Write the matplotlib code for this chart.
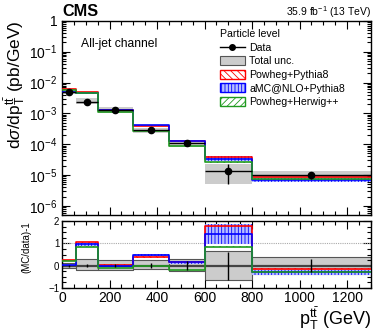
import numpy as np
import matplotlib
matplotlib.use("Agg")
import matplotlib.pyplot as plt
from matplotlib.patches import Patch
from matplotlib.lines import Line2D
from matplotlib.ticker import FixedLocator, MultipleLocator, LogLocator, FuncFormatter, NullFormatter

plt.rcParams["font.family"] = ["Liberation Sans", "DejaVu Sans"]
plt.rcParams["mathtext.fontset"] = "custom"
plt.rcParams["mathtext.rm"] = "Liberation Sans"
plt.rcParams["mathtext.it"] = "Liberation Sans:italic"
plt.rcParams["mathtext.bf"] = "Liberation Sans:bold"
plt.rcParams["hatch.linewidth"] = 0.6

# bin edges in pT(tt) [GeV]
edges = np.array([0, 60, 150, 300, 450, 600, 800, 1300])

# measured cross section (pb/GeV) and relative uncertainties
data = np.array([4.8e-3, 2.4e-3, 1.25e-3, 2.8e-4, 1.07e-4, 1.4e-5, 1.0e-5])
stat_rel = np.array([0.04, 0.06, 0.06, 0.12, 0.20, 0.63, 0.28])
tot_up_rel = np.array([0.13, 0.28, 0.27, 0.24, 0.31, 0.65, 0.39])
tot_dn_rel = np.array([0.10, 0.18, 0.18, 0.16, 0.25, 0.63, 0.37])

# predictions (pb/GeV) and their relative uncertainties
powheg_py8 = np.array([6.0e-3, 4.9e-3, 1.31e-3, 3.9e-4, 1.27e-4, 3.9e-5, 8.7e-6])
amc_py8 = np.array([4.95e-3, 4.7e-3, 1.25e-3, 4.1e-4, 1.23e-4, 3.4e-5, 7.0e-6])
powheg_hw = np.array([5.8e-3, 4.45e-3, 1.12e-3, 2.75e-4, 8.6e-5, 2.6e-5, 7.2e-6])
powheg_py8_unc = np.array([0.01, 0.02, 0.01, 0.02, 0.02, 0.03, 0.03])
amc_py8_unc = np.array([0.02, 0.04, 0.03, 0.03, 0.05, 0.19, 0.15])
powheg_hw_unc = np.array([0.01, 0.01, 0.01, 0.01, 0.01, 0.02, 0.02])

RED, BLUE, GREEN = "#ff0000", "#0000ff", "#1f9a1f"
models = [
    ("Powheg+Pythia8", powheg_py8, powheg_py8_unc, RED, "none", "\\\\\\\\\\"),
    ("aMC@NLO+Pythia8", amc_py8, amc_py8_unc, BLUE, "#b8c0ff", "|||||"),
    ("Powheg+Herwig++", powheg_hw, powheg_hw_unc, GREEN, "none", "/////"),
]

centers = 0.5 * (edges[1:] + edges[:-1])
halfw = 0.5 * np.diff(edges)


def stepped(v):
    return np.append(v, v[-1])


fig = plt.figure(figsize=(3.9, 3.31), dpi=100)
ax = fig.add_axes([0.159, 0.350, 0.792, 0.587])
rax = fig.add_axes([0.159, 0.130, 0.792, 0.202])

# ---- top panel
for lo, hi, d, up, dn in zip(edges[:-1], edges[1:], data, tot_up_rel, tot_dn_rel):
    ax.fill_between([lo, hi], d * (1 - dn), d * (1 + up), color="#cccccc", lw=0, zorder=1)
for name, mc, unc, col, fc, hatch in models:
    ax.fill_between(edges, stepped(mc * (1 - unc)), stepped(mc * (1 + unc)), step="post",
                    facecolor=fc, edgecolor=col, hatch=hatch, lw=0, zorder=2)
    ax.step(edges, stepped(mc), where="post", color=col, lw=1.2, zorder=3)
ax.errorbar(centers, data, xerr=halfw, yerr=data * stat_rel, fmt="o", color="k",
            ms=4.5, lw=1, capsize=0, zorder=5)

ax.set_yscale("log")
ax.set_ylim(5e-7, 1)
ax.set_xlim(0, 1300)
ax.yaxis.set_major_locator(LogLocator(base=10, numticks=10))
ax.yaxis.set_minor_locator(LogLocator(base=10, subs=np.arange(2, 10), numticks=10))
ax.yaxis.set_minor_formatter(NullFormatter())
ax.yaxis.set_major_formatter(FuncFormatter(
    lambda v, p: "1" if abs(v - 1) < 1e-9 else r"$10^{%d}$" % round(np.log10(v))))
ax.xaxis.set_major_locator(MultipleLocator(200))
ax.xaxis.set_minor_locator(MultipleLocator(50))
ax.tick_params(axis="x", labelbottom=False)
ax.set_ylabel(r"d$\sigma$/dp$_{\mathrm{T}}^{\mathrm{t\bar{t}}}$ (pb/GeV)", fontsize=12.5,
              loc="top", labelpad=1)

ax.text(0.06, 0.88, "All-jet channel", transform=ax.transAxes, fontsize=8.7, va="center")

handles = [
    Line2D([0], [0], color="k", marker="o", ms=4, lw=1),
    Patch(facecolor="#cccccc", edgecolor="#555555", lw=0.8),
] + [Patch(facecolor=fc, edgecolor=col, hatch=hatch, lw=1) for _, _, _, col, fc, hatch in models]
labels = ["Data", "Total unc."] + [m[0] for m in models]
leg = ax.legend(handles, labels, title="Particle level", loc="upper left",
                bbox_to_anchor=(215 / 390, 1 - 24 / 331), bbox_transform=fig.transFigure,
                frameon=False, fontsize=7.6, title_fontsize=7.6, handlelength=2.3,
                handleheight=0.95, handletextpad=0.45, labelspacing=0.32, borderpad=0,
                alignment="left")

fig.text(62 / 390, 1 - 16 / 331, "CMS", fontsize=11.7, fontweight="bold", va="baseline")
fig.text(371 / 390, 1 - 16 / 331, r"35.9 fb$^{-1}$ (13 TeV)", fontsize=7.5,
         ha="right", va="baseline")

# ---- ratio panel
for lo, hi, up, dn in zip(edges[:-1], edges[1:], tot_up_rel, tot_dn_rel):
    rax.fill_between([lo, hi], -dn, up, facecolor="#cccccc", edgecolor="#555555", lw=0.8, zorder=1)
rax.axhline(0, color="#444444", lw=1.6, zorder=2)
rax.axhline(1, color="#aaaaaa", lw=0.8, ls=(0, (1, 1)), zorder=2)
for name, mc, unc, col, fc, hatch in models:
    r = mc / data - 1
    du = mc * unc / data
    rax.fill_between(edges, stepped(r - du), stepped(r + du), step="post",
                     facecolor=fc, edgecolor=col, hatch=hatch, lw=0, zorder=3)
    rax.step(edges, stepped(r), where="post", color=col, lw=1.2, zorder=4)
rax.errorbar(centers, np.zeros_like(centers), yerr=stat_rel, fmt="none", ecolor="k",
             lw=1, capsize=0, zorder=5)

rax.set_xlim(0, 1300)
rax.set_ylim(-1, 2)
rax.yaxis.set_major_locator(FixedLocator([-1, 0, 1, 2]))
rax.yaxis.set_minor_locator(MultipleLocator(0.25))
rax.xaxis.set_major_locator(MultipleLocator(200))
rax.xaxis.set_minor_locator(MultipleLocator(50))
rax.tick_params(axis="x", labelsize=10, pad=2)
rax.set_ylabel("(MC/data)-1", fontsize=7, loc="top")
rax.yaxis.set_label_coords(-0.10, 1.0)
rax.set_xlabel(r"p$_{\mathrm{T}}^{\mathrm{t\bar{t}}}$ (GeV)", fontsize=13, loc="right", labelpad=0)

for a in (ax, rax):
    a.tick_params(which="both", direction="in", top=True, right=True, width=0.8)
    a.tick_params(which="major", length=6)
    a.tick_params(which="minor", length=3)
    a.tick_params(axis="y", labelsize=10 if a is ax else 7, pad=2 if a is rax else 3.5)
    for s in a.spines.values():
        s.set_linewidth(1)

fig.savefig("out.png", dpi=100)
